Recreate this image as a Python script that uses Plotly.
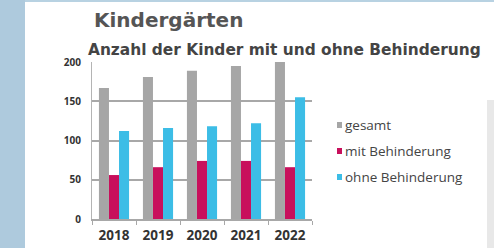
import plotly.graph_objects as go

years = ["2018", "2019", "2020", "2021", "2022"]
gesamt = [167, 181, 189, 195, 221]
mit_behinderung = [56, 66, 74, 74, 66]
ohne_behinderung = [112, 116, 118, 122, 155]
y_ticks = [0, 50, 100, 150, 200]
series_names = ["gesamt", "mit Behinderung", "ohne Behinderung"]
series_colors = ["#a6a6a6", "#c8105c", "#3cbde6"]

W, H = 494, 248
L, R, T, B = 92, 182, 62, 29
pw, ph = W - L - R, H - T - B

def px(x):
    return (x - L) / pw

def py(y):
    return (H - B - y) / ph

fig = go.Figure()
for name, vals, col in zip(series_names, [gesamt, mit_behinderung, ohne_behinderung], series_colors):
    fig.add_trace(go.Bar(x=years, y=vals, name=name, marker_color=col,
                         marker_line_width=0, showlegend=False, hoverinfo="skip"))

fig.update_layout(
    width=W, height=H,
    margin=dict(l=L, r=R, t=T, b=B, autoexpand=False),
    paper_bgcolor="white", plot_bgcolor="white",
    barmode="group", bargap=0.315, bargroupgap=0,
    font=dict(family="Lato, Open Sans, sans-serif", color="#333"),
)
fig.update_yaxes(range=[0, 200], tickvals=y_ticks, showgrid=True, automargin=False,
                 gridcolor="#a8a8a8", gridwidth=1.5, zeroline=False,
                 showline=True, linecolor="#b4b4b4", linewidth=1,
                 ticks="", ticklabelstandoff=8,
                 tickfont=dict(family="Open Sans, sans-serif", size=10, color="#333", weight="bold"))
fig.update_xaxes(showline=True, linecolor="#a8a8a8", linewidth=1.5, automargin=False,
                 ticks="outside", tickson="boundaries", ticklen=4, tickcolor="#a8a8a8",
                 ticklabelstandoff=3,
                 tickfont=dict(family="Open Sans, sans-serif", size=13.5, color="#333", weight="bold"))

shapes = [
    dict(type="rect", xref="paper", yref="paper", x0=px(0), x1=px(25), y0=py(H), y1=py(0),
         fillcolor="#aecadd", line_width=0, layer="below"),
    dict(type="rect", xref="paper", yref="paper", x0=px(25), x1=px(W), y0=py(2), y1=py(0),
         fillcolor="#b8d2e2", line_width=0, layer="below"),
    dict(type="rect", xref="paper", yref="paper", x0=px(487), x1=px(W), y0=py(H), y1=py(100),
         fillcolor="#e8e8e8", line_width=0, layer="below"),
]
# custom legend (small squares + labels)
leg_y = [125, 151, 177]
for name, col, yy in zip(series_names, series_colors, leg_y):
    shapes.append(dict(type="rect", xref="paper", yref="paper",
                       x0=px(337), x1=px(342), y0=py(yy + 3), y1=py(yy - 3),
                       fillcolor=col, line_width=0))
    fig.add_annotation(text=name, xref="paper", yref="paper", x=px(343), y=py(yy),
                       xanchor="left", yanchor="middle", showarrow=False,
                       font=dict(family="Open Sans, sans-serif", size=13.5, color="#444"))
fig.update_layout(shapes=shapes)

fig.add_annotation(text="Kindergärten", xref="paper", yref="paper", x=px(92), y=py(20),
                   xanchor="left", yanchor="middle", showarrow=False,
                   font=dict(family="DejaVu Sans, sans-serif", size=20, color="#555", weight="bold"))
fig.add_annotation(text="Anzahl der Kinder mit und ohne Behinderung", xref="paper", yref="paper",
                   x=px(86), y=py(50), xanchor="left", yanchor="middle", showarrow=False,
                   font=dict(family="DejaVu Sans, sans-serif", size=15.4, color="#444", weight="bold"))

fig.write_html("out.html", config={"displayModeBar": False},
               post_script="document.body.style.margin='0px';")
